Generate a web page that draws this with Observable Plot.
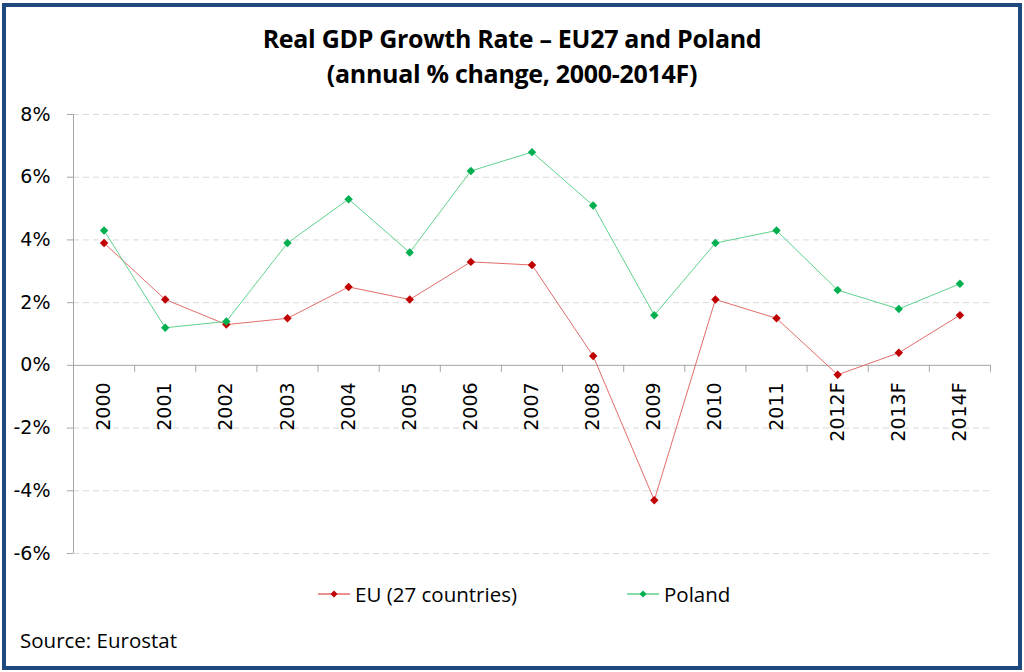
<!DOCTYPE html>
<html><head><meta charset="utf-8">
<script src="https://cdn.jsdelivr.net/npm/d3@7"></script>
<script src="https://cdn.jsdelivr.net/npm/@observablehq/plot@0.6"></script>
<style>
body{margin:0;background:#fff;}
#frame{position:relative;width:1024px;height:672px;overflow:hidden;background:#fff;}
#border{position:absolute;left:2px;top:3px;right:2px;bottom:2px;border:4px solid #1f497d;box-sizing:border-box;pointer-events:none;}
#title{position:absolute;left:0;width:1024px;top:21px;text-align:center;font-family:"Open Sans",sans-serif;font-weight:700;font-size:25px;line-height:35px;color:#000;letter-spacing:-0.3px;}
#chart{position:absolute;left:0;top:0;}
#legend{position:absolute;top:581px;left:0;width:1024px;height:26px;font-family:"Open Sans",sans-serif;font-size:20.5px;color:#000;}
.item{position:absolute;top:0;display:flex;align-items:center;height:26px;}
.item svg{margin-right:5px;}
#source{position:absolute;left:20px;top:626px;font-family:"Open Sans",sans-serif;font-size:20.5px;color:#000;}
</style></head>
<body>
<div id="frame">
  <div id="chart"></div>
  <div id="title">Real GDP Growth Rate – EU27 and Poland<br>(annual % change, 2000-2014F)</div>
  <div id="legend"></div>
  <div id="source">Source: Eurostat</div>
  <div id="border"></div>
</div>
<script>
const categories = ["2000","2001","2002","2003","2004","2005","2006","2007","2008","2009","2010","2011","2012F","2013F","2014F"];
const euValues = [3.9, 2.1, 1.3, 1.5, 2.5, 2.1, 3.3, 3.2, 0.3, -4.3, 2.1, 1.5, -0.3, 0.4, 1.6];
const polandValues = [4.3, 1.2, 1.4, 3.9, 5.3, 3.6, 6.2, 6.8, 5.1, 1.6, 3.9, 4.3, 2.4, 1.8, 2.6];
const yTicks = [-6, -4, -2, 0, 2, 4, 6, 8];
const seriesNames = ["EU (27 countries)", "Poland"];
const lineColors = ["#e46c6c", "#5fd38d"];
const markerColors = ["#c00000", "#00b050"];

const idx = categories.map((_, i) => i);
const rows = [];
seriesNames.forEach((s, k) => {
  const vals = k === 0 ? euValues : polandValues;
  vals.forEach((v, i) => rows.push({series: s, i, v}));
});
const boundaries = idx.map(i => i + 0.5);

const chart = Plot.plot({
  width: 1024, height: 672,
  marginLeft: 73, marginRight: 34, marginTop: 114, marginBottom: 119,
  style: {fontFamily: "DejaVu Sans", fontSize: "19px", background: "transparent"},
  x: {domain: [-0.5, categories.length - 0.5], axis: null},
  y: {domain: [-6, 8], axis: null},
  color: {domain: seriesNames, range: lineColors},
  marks: [
    Plot.ruleY(yTicks.filter(d => d !== 0), {y: d => d, stroke: "#d9d9d9", strokeDasharray: "6,4"}),
    Plot.ruleY([0], {y: d => d, stroke: "#a6a6a6"}),
    Plot.ruleX([-0.5], {x: d => d, stroke: "#a6a6a6"}),
    Plot.ruleY(yTicks, {y: d => d, x1: -0.5, x2: -0.5, insetLeft: -6, stroke: "#a6a6a6"}),
    Plot.ruleX(boundaries, {x: d => d, y1: 0, y2: 0, insetBottom: -7, stroke: "#a6a6a6"}),
    Plot.text(yTicks, {y: d => d, frameAnchor: "left", text: d => d + "%", textAnchor: "end", dx: -23, fill: "#000"}),
    Plot.text(idx, {x: d => d, y: 0, text: d => categories[d], rotate: -90, textAnchor: "end", dy: 17, fill: "#000"}),
    Plot.line(rows, {x: "i", y: "v", z: "series", stroke: d => d.series, strokeWidth: 1}),
    Plot.dot(rows, {x: "i", y: "v", symbol: "diamond2", r: 3.8, fill: d => markerColors[seriesNames.indexOf(d.series)], stroke: "none"})
  ]
});
document.getElementById("chart").appendChild(chart);

const legend = document.getElementById("legend");
const legendX = [318, 627];
seriesNames.forEach((s, k) => {
  const item = document.createElement("div");
  item.className = "item";
  item.style.left = legendX[k] + "px";
  item.innerHTML = `<svg width="32" height="12"><line x1="0" y1="6" x2="32" y2="6" stroke="${lineColors[k]}" stroke-width="1.5"/><path d="M16,2.5L19.5,6L16,9.5L12.5,6Z" fill="${markerColors[k]}"/></svg><span>${s}</span>`;
  legend.appendChild(item);
});
</script>
</body></html>
